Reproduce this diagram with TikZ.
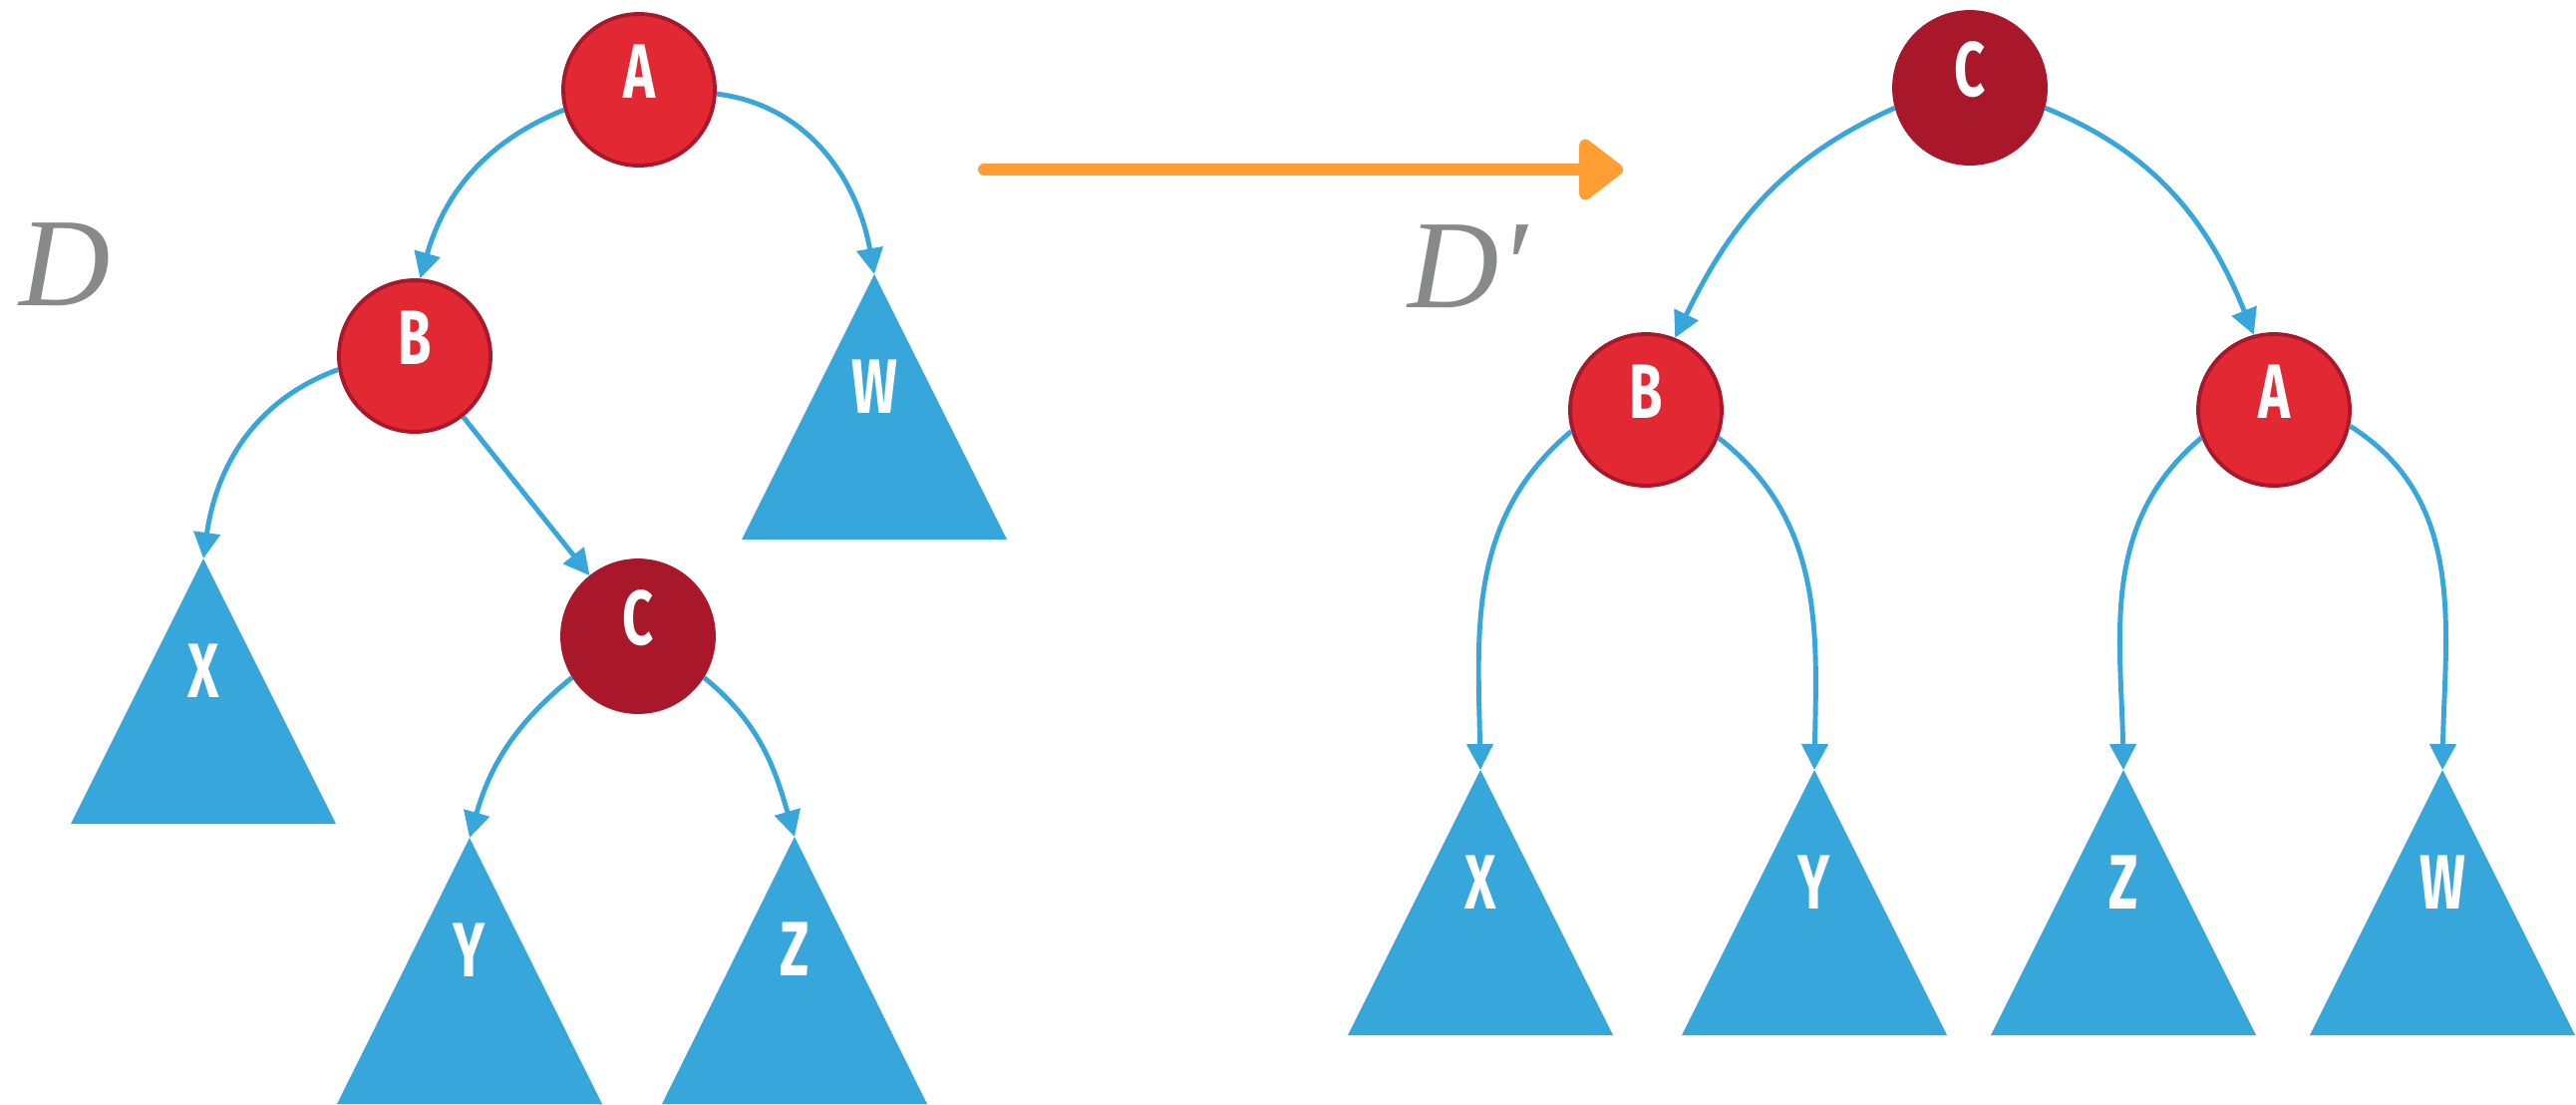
\documentclass[tikz,border=0pt]{standalone}
\usepackage{fontspec}
\usepackage{graphicx}
\setsansfont{Fira Sans}
\newfontfamily\dfont{Liberation Serif}
\usetikzlibrary{arrows.meta, positioning}
\definecolor{nodered}{HTML}{E22833}
\definecolor{darkred}{HTML}{A8182A}
\definecolor{treeblue}{HTML}{36A6DB}
\definecolor{flipgold}{HTML}{FF9F33}
\definecolor{labelgray}{HTML}{87898A}
\newcommand\narrow[1]{\scalebox{0.7}[1]{#1}}

\begin{document}
\begin{tikzpicture}[
    every node/.style={font=\sffamily\bfseries\fontsize{22}{24}\selectfont, text=white},
    rednode/.style={
        circle,
        fill=nodered,
        draw=darkred,
        line width=1.1pt,
        minimum size=1.52cm,
        inner sep=0pt,
        text height=0.53cm,
        text depth=0.36cm
    },
    blacknode/.style={rednode, fill=darkred},
    subtree/.style={fill=treeblue},
    leaf/.style={inner sep=0pt},
    edge/.style={draw=treeblue, line width=1.4pt, -{Triangle[length=0.26cm, width=0.26cm]}},
    treename/.style={
        font=\dfont\itshape\fontsize{36}{40}\selectfont,
        text=labelgray,
        inner sep=0pt,
        anchor=base west
    },
    rotation/.style={draw=flipgold, line width=0.12cm, line cap=round, -{Triangle[round, length=0.48cm, width=0.7cm]}}
]
\useasboundingbox (0,0) rectangle (25.84,-11.07);

\node[rednode] (a) at (6.41,-0.90) {\narrow{A}};
\node[rednode] (b) at (4.16,-3.57) {\narrow{B}};
\node[blacknode] (c) at (6.40,-6.38) {\narrow{C}};

\coordinate (x) at (2.04,-5.60);
\coordinate (w) at (8.77,-2.75);
\coordinate (y) at (4.71,-8.40);
\coordinate (z) at (7.97,-8.39);

\fill[subtree] (x) -- ++(-1.33,-2.66) -- ++(2.66,0) -- cycle;
\fill[subtree] (w) -- ++(-1.33,-2.66) -- ++(2.66,0) -- cycle;
\fill[subtree] (y) -- ++(-1.33,-2.67) -- ++(2.66,0) -- cycle;
\fill[subtree] (z) -- ++(-1.33,-2.68) -- ++(2.66,0) -- cycle;

\node[leaf] (xname) at ([yshift=-1.13cm]x) {\narrow{X}};
\node[leaf] (wname) at ([yshift=-1.13cm]w) {\narrow{W}};
\node[leaf] (yname) at ([yshift=-1.13cm]y) {\narrow{Y}};
\node[leaf] (zname) at ([yshift=-1.13cm]z) {\narrow{Z}};

\draw[edge] (a.195) to[out=202, in=74] (b.86);
\draw[edge] (a.-3) to[out=-7, in=100] (w);
\draw[edge] (b.190) to[out=200, in=82] (x);
\draw[edge] (b) -- (c);
\draw[edge] (c.212) to[out=219, in=74] (y);
\draw[edge] (c.328) to[out=-39, in=106] (z);

\node[blacknode] (c2) at (19.76,-0.88) {\narrow{C}};
\node[rednode] (b2) at (16.51,-4.11) {\narrow{B}};
\node[rednode] (a2) at (22.81,-4.11) {\narrow{A}};

\coordinate (x2) at (14.85,-7.72);
\coordinate (y2) at (18.20,-7.72);
\coordinate (z2) at (21.30,-7.72);
\coordinate (w2) at (24.50,-7.72);

\fill[subtree] (x2) -- ++(-1.33,-2.66) -- ++(2.66,0) -- cycle;
\fill[subtree] (y2) -- ++(-1.33,-2.66) -- ++(2.66,0) -- cycle;
\fill[subtree] (z2) -- ++(-1.33,-2.66) -- ++(2.66,0) -- cycle;
\fill[subtree] (w2) -- ++(-1.33,-2.66) -- ++(2.66,0) -- cycle;

\node[leaf] (x2name) at ([yshift=-1.13cm]x2) {\narrow{X}};
\node[leaf] (y2name) at ([yshift=-1.13cm]y2) {\narrow{Y}};
\node[leaf] (z2name) at ([yshift=-1.13cm]z2) {\narrow{Z}};
\node[leaf] (w2name) at ([yshift=-1.13cm]w2) {\narrow{W}};

\draw[edge] (c2.195) to[out=204, in=64] (b2.68);
\draw[edge] (c2.-15) to[out=-22, in=112] (a2.105);
\draw[edge] (b2.196) to[out=220, in=91] (x2);
\draw[edge] (b2.-21) to[out=-38, in=89] (y2);
\draw[edge] (a2.201) to[out=220, in=91] (z2);
\draw[edge] (a2.-12) to[out=-32, in=89] (w2);

\coordinate (rotstart) at (9.87,-1.70);
\coordinate (rotend) at (16.28,-1.70);
\draw[rotation] (rotstart) -- (rotend);

\node[treename] (dleft) at (0.19,-3.06) {D};
\node[treename] (dright) at (14.12,-3.08) {D′};

\end{tikzpicture}
\end{document}
